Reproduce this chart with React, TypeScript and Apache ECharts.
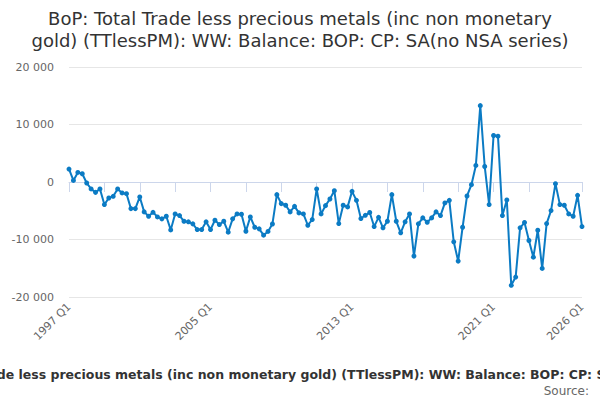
import { useEffect, useRef } from 'react'
import * as echarts from 'echarts'

// quarterly categories, 1997 Q1 .. 2026 Q1
const firstYear = 1997
const lastYear  = 2026
const quarters: string[] = []
for (let y = firstYear; y <= lastYear; y++) {
  for (let q = 1; q <= 4; q++) {
    if (y === lastYear && q > 1) break
    quarters.push(`${y} Q${q}`)
  }
}

// £ million
const balance = [
  2250, 280, 1660, 1440, -170, -1210, -1800, -1210, -3930, -2780,
  -2490, -1210, -1900, -2030, -4630, -4630, -2600, -5200, -5960, -5270,
  -6070, -6410, -5960, -8330, -5550, -5840, -6830, -6930, -7280, -8270,
  -8270, -6930, -8270, -6650, -7400, -6830, -8730, -6410, -5550, -5610,
  -8560, -6070, -7870, -8150, -9250, -8600, -7300, -2200, -3760, -4050,
  -5200, -4230, -5370, -5550, -7520, -6530, -1210, -5550, -4110, -2950,
  -1510, -7230, -4050, -4330, -1630, -3190, -6360, -5790, -5300, -7750,
  -6150, -7970, -6830, -2200, -6830, -8840, -6930, -5550, -12890, -7280,
  -6240, -7000, -6240, -5200, -5840, -3640, -3190, -10400, -13760, -7870,
  -2430, -470, 2880, 13280, 2700, -3930, 8080, 7970, -5840, -3120,
  -17970, -16530, -7970, -7050, -10170, -13070, -8390, -15030, -7230, -4970,
  -290, -3930, -4050, -5550, -5960, -2320, -7750,
]

const yTicks = [-20000, -10000, 0, 10000, 20000]

const seriesName = 'BoP: Total Trade less precious metals (inc non monetary gold) (TTlessPM): WW: Balance: BOP: CP: SA(no NSA series)'
const titleLines = [
  'BoP: Total Trade less precious metals (inc non monetary',
  'gold) (TTlessPM): WW: Balance: BOP: CP: SA(no NSA series)',
]

const font = 'DejaVu Sans, sans-serif'

const fmt = (v: number) => {
  const s = Math.abs(v).toString().replace(/\B(?=(\d{3})+(?!\d))/g, ' ')
  return (v < 0 ? '-' : '') + s
}

export default function App() {
  const ref = useRef<HTMLDivElement>(null)

  useEffect(() => {
    document.body.style.margin = '0'
    if (!ref.current) return
    const chart = echarts.init(ref.current, undefined, { renderer: 'svg' })
    const last = quarters.length - 1

    chart.setOption({
      animation: false,
      backgroundColor: '#fff',
      textStyle: { fontFamily: font },
      title: {
        text: titleLines.join('\n'),
        left: 'center',
        top: 2,
        textStyle: { fontFamily: font, fontSize: 18, fontWeight: 'normal', color: '#333', lineHeight: 22 },
      },
      grid: { left: 69, right: 18, top: 67, bottom: 103 },
      xAxis: {
        type: 'category',
        data: quarters,
        boundaryGap: false,
        axisLine: { lineStyle: { color: '#ccd6eb' } },
        axisTick: {
          length: 10,
          lineStyle: { color: '#ccd6eb' },
          interval: (i: number) => (i % 8 === 0 && i <= 104) || i === last,
        },
        axisLabel: {
          rotate: 45,
          color: '#666',
          fontSize: 11,
          fontFamily: font,
          margin: 8,
          interval: (i: number) => i % 32 === 0 || i === last,
        },
        splitLine: { show: false },
      },
      yAxis: {
        type: 'value',
        min: yTicks[0],
        max: yTicks[yTicks.length - 1],
        interval: 10000,
        axisLine: { show: false },
        axisTick: { show: false },
        axisLabel: { color: '#666', fontSize: 11, fontFamily: font, margin: 15, formatter: fmt },
        splitLine: { lineStyle: { color: '#e6e6e6' } },
      },
      series: [{
        name: seriesName,
        type: 'line',
        data: balance,
        symbol: 'circle',
        symbolSize: 5,
        showSymbol: true,
        showAllSymbol: true,
        color: '#0b7bc4',
        lineStyle: { width: 2 },
      }],
      graphic: [
        {
          type: 'text',
          x: 312,
          y: 374,
          style: {
            text: seriesName, fontFamily: font, fontSize: 12.5, fontWeight: 'bold', fill: '#333',
            align: 'center', verticalAlign: 'middle',
          },
        },
        {
          type: 'text',
          x: 589,
          y: 391,
          style: {
            text: 'Source:', fontFamily: font, fontSize: 12, fill: '#666',
            align: 'right', verticalAlign: 'middle',
          },
        },
      ],
    })

    return () => chart.dispose()
  }, [])

  return <div ref={ref} style={{ width: 600, height: 400 }} />
}
